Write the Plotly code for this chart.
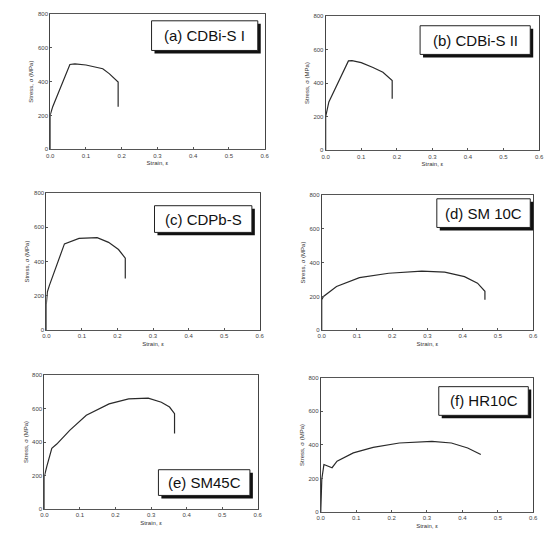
import plotly.graph_objects as go

# ---- data ----
strain_a = [0.0, 0.0, 0.0, 0.007, 0.055, 0.069, 0.10, 0.147, 0.165, 0.19, 0.19]
stress_a = [0, 120, 204, 252, 501, 505, 498, 476, 447, 398, 252]

strain_b = [0.0, 0.0, 0.0, 0.009, 0.064, 0.074, 0.10, 0.133, 0.161, 0.187, 0.187]
stress_b = [0, 130, 200, 288, 532, 534, 522, 493, 464, 415, 307]

strain_c = [0.0, 0.0, 0.003, 0.009, 0.051, 0.092, 0.143, 0.175, 0.203, 0.222, 0.222]
stress_c = [0, 150, 224, 263, 503, 535, 539, 512, 470, 420, 301]

strain_d = [0.0, 0.0, 0.005, 0.042, 0.107, 0.19, 0.284, 0.349, 0.405, 0.442, 0.463, 0.463]
stress_d = [0, 181, 200, 259, 311, 337, 350, 343, 317, 278, 230, 181]

strain_e = [0.0, 0.0, 0.007, 0.021, 0.035, 0.072, 0.118, 0.182, 0.237, 0.292, 0.329, 0.352, 0.366, 0.366]
stress_e = [0, 196, 255, 363, 388, 471, 559, 627, 657, 661, 637, 608, 569, 451]

strain_f = [0.0, 0.003, 0.009, 0.018, 0.032, 0.046, 0.092, 0.148, 0.222, 0.314, 0.369, 0.415, 0.452]
stress_f = [0, 196, 284, 278, 265, 304, 353, 386, 412, 422, 412, 382, 343]

labels = ["(a) CDBi-S I", "(b) CDBi-S II", "(c) CDPb-S", "(d) SM 10C", "(e) SM45C", "(f) HR10C"]
x_ticks = [0.0, 0.1, 0.2, 0.3, 0.4, 0.5, 0.6]
x_tick_text = ["0.0", "0.1", "0.2", "0.3", "0.4", "0.5", "0.6"]
y_ticks = [0, 200, 400, 600, 800]
y_tick_text = ["0", "200", "400", "600", "800"]

series = [(strain_a, stress_a), (strain_b, stress_b), (strain_c, stress_c),
          (strain_d, stress_d), (strain_e, stress_e), (strain_f, stress_f)]

# ---- layout (pixel boxes of each panel: left, right, top, bottom) ----
W, H = 551, 536
panels = [(47, 265, 11, 148), (327, 544, 13, 149),
          (43, 260, 192, 331), (323, 538, 194, 331),
          (41, 258, 376, 512), (322, 538, 379, 515)]
boxes = [(150, 258, 18, 48), (423, 535, 23, 52),
         (153, 252, 205, 232), (440, 535, 198, 227),
         (157, 250, 472, 498), (442, 533, 388, 417)]

fig = go.Figure()
shapes = []
annotations = []
axis_font = dict(family="Liberation Sans, Arial", size=6, color="#444")
title_font = dict(family="Liberation Sans, Arial", size=6, color="#333")
for i, ((xs, ys), (l, r, t, b)) in enumerate(zip(series, panels)):
    n = "" if i == 0 else str(i + 1)
    fig.add_trace(go.Scatter(x=xs, y=ys, mode="lines", xaxis="x" + n, yaxis="y" + n,
                             line=dict(color="#2a2a2a", width=1.2), showlegend=False,
                             hoverinfo="skip"))
    fig.layout["xaxis" + n] = dict(
        domain=[l / W, r / W], anchor="y" + n, range=[0, 0.6],
        tickvals=x_ticks, ticktext=x_tick_text, tickfont=axis_font,
        ticks="inside", ticklen=2, tickcolor="#555", ticklabeloverflow="allow",
        showline=True, linecolor="#555", linewidth=1, mirror=True,
        showgrid=False, zeroline=False,
        title=dict(text="Strain, ε", font=title_font, standoff=3))
    fig.layout["yaxis" + n] = dict(
        domain=[1 - b / H, 1 - t / H], anchor="x" + n, range=[0, 800],
        tickvals=y_ticks, ticktext=y_tick_text, tickfont=axis_font,
        ticks="inside", ticklen=2, tickcolor="#555", ticklabeloverflow="allow",
        showline=True, linecolor="#444", linewidth=1, mirror=True,
        showgrid=False, zeroline=False,
        title=dict(text="Stress, σ (MPa)", font=title_font, standoff=3))
    bl, br, bt, bb = boxes[i]
    shapes.append(dict(type="rect", xref="paper", yref="paper",
                       x0=(bl + 3) / W, x1=(br + 3) / W, y0=1 - (bb + 3) / H, y1=1 - (bt + 3) / H,
                       fillcolor="#111", line=dict(width=0), layer="above"))
    shapes.append(dict(type="rect", xref="paper", yref="paper",
                       x0=bl / W, x1=br / W, y0=1 - bb / H, y1=1 - bt / H,
                       fillcolor="white", line=dict(color="#222", width=1), layer="above"))
    annotations.append(dict(text=labels[i], xref="paper", yref="paper",
                            x=(bl + br) / 2 / W, y=1 - (bt + bb) / 2 / H,
                            showarrow=False, xanchor="center", yanchor="middle",
                            font=dict(family="Liberation Sans, Arial", size=15, color="#111")))

fig.update_layout(width=W, height=H, margin=dict(l=0, r=0, t=0, b=0),
                  paper_bgcolor="white", plot_bgcolor="white",
                  shapes=shapes, annotations=annotations)
fig.write_html("out.html", config={"displayModeBar": False},
               post_script="document.body.style.margin='0';document.body.style.overflow='hidden';")
